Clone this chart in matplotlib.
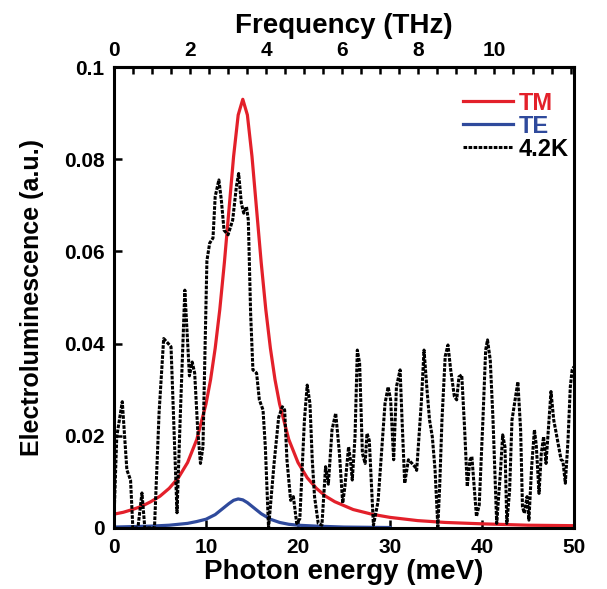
import numpy as np
import matplotlib
matplotlib.use('Agg')
import matplotlib.pyplot as plt
from matplotlib.ticker import MultipleLocator, FixedLocator, FixedFormatter

plt.rcParams['font.family'] = ['Liberation Sans', 'DejaVu Sans']
plt.rcParams['font.weight'] = 'bold'

# TM electroluminescence
tm_e = [0, 1, 2, 3, 4, 5, 6, 7, 8, 9, 10, 10.5, 11, 11.5, 12, 12.5, 13, 13.5, 14,
        14.5, 15, 15.5, 16, 16.5, 17, 17.5, 18, 19, 20, 21, 22, 23, 24, 26, 28, 30,
        33, 36, 40, 45, 50]
tm_v = [0.0030, 0.0034, 0.0040, 0.0047, 0.0057, 0.0069, 0.0086, 0.0109, 0.0142,
        0.0192, 0.0269, 0.0322, 0.0390, 0.0474, 0.0576, 0.0691, 0.0806, 0.0896,
        0.0930, 0.0896, 0.0806, 0.0691, 0.0576, 0.0474, 0.0390, 0.0322, 0.0269,
        0.0192, 0.0142, 0.0109, 0.0086, 0.0069, 0.0057, 0.0040, 0.0030, 0.0023,
        0.0016, 0.0012, 0.0009, 0.0006, 0.0005]

# TE electroluminescence
te_e = [0, 2, 4, 6, 8, 9, 10, 11, 12, 12.5, 13, 13.5, 14, 14.5, 15, 15.5, 16, 17,
        18, 19, 20, 22, 25, 30]
te_v = [0.0002, 0.0003, 0.0004, 0.0006, 0.0010, 0.0014, 0.0019, 0.0029, 0.0045,
        0.0053, 0.0060, 0.0063, 0.0061, 0.0055, 0.0047, 0.0039, 0.0031, 0.0019,
        0.0012, 0.0008, 0.0006, 0.0004, 0.0002, 0.0001]

# measured spectrum at 4.2 K
k42_e = [0.0, 0.3, 0.9, 1.4, 1.8, 2.05, 2.6, 3.04, 3.35, 4.4, 4.9, 5.4, 5.9, 6.2,
         6.85, 7.2, 7.7, 8.2, 8.5, 8.77, 9.1, 9.4, 9.67, 9.9, 10.1, 10.4, 10.76,
         11.0, 11.4, 11.67, 11.96, 12.4, 12.9, 13.3, 13.55, 13.84, 14.1, 14.4, 14.6,
         14.85, 15.1, 15.5, 15.8, 16.2, 16.45, 16.8, 17.4, 17.9, 18.3, 18.55, 18.8,
         19.2, 19.5, 19.86, 20.2, 20.7, 21.0, 21.3, 21.55, 21.8, 22.2, 22.6, 23.0,
         23.3, 23.7, 24.1, 24.5, 24.86, 25.1, 25.5, 25.7, 25.9, 26.2, 26.45, 26.7,
         27.0, 27.3, 27.5, 27.75, 28.2, 28.7, 29.46, 29.8, 30.07, 30.3, 30.4, 30.7,
         31.1, 31.3, 31.6, 32.0, 32.4, 32.7, 32.9, 33.4, 33.7, 34.0, 34.3, 34.6,
         34.9, 35.2, 35.4, 35.65, 36.0, 36.3, 36.6, 37.0, 37.25, 37.5, 37.8, 38.1,
         38.4, 38.7, 38.9, 39.4, 39.7, 40.1, 40.4, 40.6, 40.9, 41.2, 41.6, 42.0,
         42.25, 42.5, 42.7, 43.0, 43.26, 43.6, 43.9, 44.2, 44.4, 44.6, 44.9, 45.1,
         45.4, 45.7, 45.9, 46.2, 46.45, 46.7, 46.96, 47.2, 47.5, 47.8, 48.0, 48.3,
         48.6, 48.8, 49.06, 49.35, 49.6, 49.8, 50.0]
k42_v = [0.002, 0.0198, 0.0274, 0.0126, 0.0104, 0.0, 0.0, 0.0076, 0.0, 0.0, 0.025,
         0.0411, 0.0400, 0.0393, 0.0033, 0.024, 0.0516, 0.0330, 0.0360, 0.0336,
         0.0213, 0.0140, 0.0176, 0.039, 0.058, 0.0618, 0.0629, 0.0719, 0.0755,
         0.0711, 0.0646, 0.0636, 0.0668, 0.0740, 0.0769, 0.0705, 0.0683, 0.0697,
         0.0668, 0.0466, 0.0343, 0.0336, 0.0278, 0.0256, 0.0176, 0.0, 0.014, 0.024,
         0.0263, 0.0256, 0.0148, 0.006, 0.0068, 0.001, 0.002, 0.0234, 0.031, 0.027,
         0.0148, 0.0068, 0.001, 0.0006, 0.0133, 0.0095, 0.0213, 0.0249, 0.0163,
         0.0054, 0.009, 0.0176, 0.0148, 0.0104, 0.0198, 0.0386, 0.0357, 0.0162,
         0.014, 0.0205, 0.019, 0.0006, 0.0057, 0.027, 0.0306, 0.0278, 0.019, 0.0148,
         0.0306, 0.0343, 0.024, 0.0097, 0.0148, 0.014, 0.0133, 0.0125, 0.027,
         0.0386, 0.0306, 0.0234, 0.0198, 0.0126, 0.0003, 0.009, 0.0234, 0.0372,
         0.0397, 0.0343, 0.0285, 0.0278, 0.0328, 0.0332, 0.022, 0.009, 0.0148,
         0.0155, 0.0025, 0.005, 0.0234, 0.0386, 0.0408, 0.0364, 0.0234, 0.001,
         0.012, 0.0202, 0.0176, 0.001, 0.008, 0.0234, 0.0278, 0.0317, 0.0213,
         0.0046, 0.0032, 0.0068, 0.0017, 0.0133, 0.0213, 0.018, 0.0075, 0.0162,
         0.0198, 0.014, 0.021, 0.0296, 0.0234, 0.0213, 0.018, 0.0148, 0.0145,
         0.0097, 0.019, 0.0306, 0.0343, 0.035]

thz_ticks = [0, 2, 4, 6, 8, 10]
y_ticks = [0, 0.02, 0.04, 0.06, 0.08, 0.1]
y_labels = ['0', '0.02', '0.04', '0.06', '0.08', '0.1']

MEV_PER_THZ = 4.1357


def mev2thz(e):
    return np.asarray(e) / MEV_PER_THZ


def thz2mev(f):
    return np.asarray(f) * MEV_PER_THZ


fig = plt.figure(figsize=(6.07, 5.89), dpi=100)
ax = fig.add_axes([0.1878, 0.1036, 0.7578, 0.7826])

ax.plot(tm_e, tm_v, color='#e3202a', lw=2.3, label='TM', zorder=2)
ax.plot(te_e, te_v, color='#2f4a9c', lw=2.3, label='TE', zorder=2)
ax.plot(k42_e, k42_v, color='black', lw=2.2, ls=(0, (1.2, 0.45)),
        label='4.2K', zorder=3)

ax.set_xlim(0, 50)
ax.set_ylim(0, 0.1)
ax.xaxis.set_major_locator(MultipleLocator(10))
ax.yaxis.set_major_locator(FixedLocator(y_ticks))
ax.yaxis.set_major_formatter(FixedFormatter(y_labels))
ax.tick_params(axis='both', direction='in', labelsize=15, width=1.8, length=6,
               pad=7)
ax.tick_params(axis='x', top=False)
for s in ax.spines.values():
    s.set_linewidth(2.2)

ax.set_xlabel('Photon energy (meV)', fontsize=20, fontweight='bold', labelpad=2)
ax.set_ylabel('Electroluminescence (a.u.)', fontsize=18, fontweight='bold',
              labelpad=14)

top = ax.secondary_xaxis('top', functions=(mev2thz, thz2mev))
top.xaxis.set_major_locator(FixedLocator(thz_ticks))
top.xaxis.set_minor_locator(MultipleLocator(0.5))
top.tick_params(which='both', direction='in', labelsize=15, width=1.8,
                length=5, pad=5)
top.spines['top'].set_linewidth(2.2)
top.set_xlabel('Frequency (THz)', fontsize=20, fontweight='bold', labelpad=6)

leg = ax.legend(loc='upper right', bbox_to_anchor=(1.035, 0.993), frameon=False,
                fontsize=17, handlelength=2.1, handletextpad=0.25,
                labelspacing=0.0, borderaxespad=0.5)
for txt, ln in zip(leg.get_texts(), leg.get_lines()):
    txt.set_color(ln.get_color())
    txt.set_fontweight('bold')

fig.savefig('out.png', dpi=100)
